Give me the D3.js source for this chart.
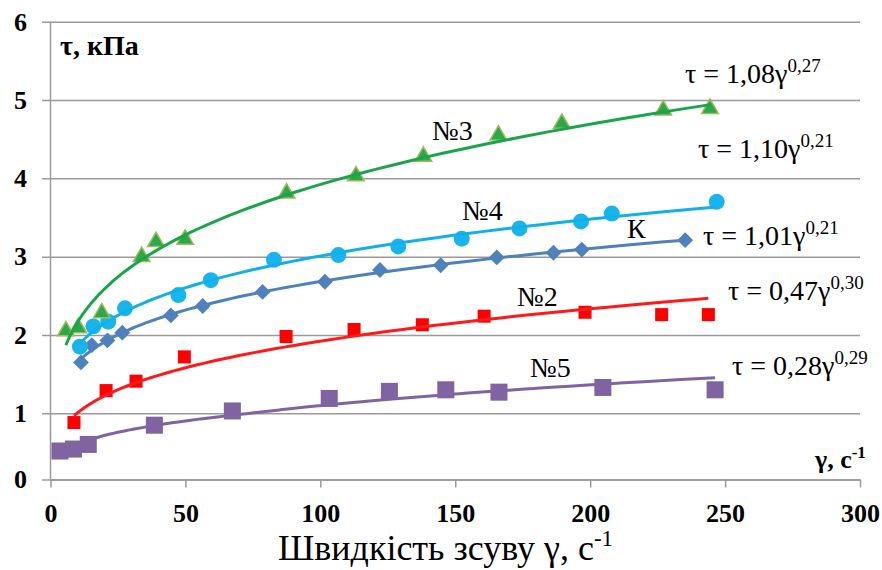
<!DOCTYPE html>
<html>
<head>
<meta charset="utf-8">
<script src="https://cdn.jsdelivr.net/npm/d3@7"></script>
<style>
  body { margin: 0; background: #fff; }
  svg text { font-family: "Liberation Serif", "Times New Roman", "DejaVu Serif", "Noto Serif", serif !important; }
</style>
</head>
<body>
<div id="chart"></div>
<script>
// ### DATA ###
// shear rate γ, 1/s  and  shear stress τ, kPa
const n3X = [5.7, 10.3, 19, 33.8, 39.1, 49.9, 87.5, 113.2, 138.2, 166, 189.5, 227.1, 244.4];
const n3Y = [2.05, 2.09, 2.28, 3.0, 3.19, 3.22, 3.81, 4.03, 4.28, 4.55, 4.70, 4.87, 4.89];

const n4X = [10.9, 15.9, 21.4, 27.6, 47.4, 59.4, 82.8, 106.7, 128.9, 152.4, 173.8, 196.6, 208, 246.9];
const n4Y = [1.85, 2.11, 2.17, 2.34, 2.51, 2.70, 2.96, 3.02, 3.13, 3.23, 3.36, 3.45, 3.55, 3.70];

const kX = [11.3, 15.3, 21.1, 26.6, 44.6, 56.4, 78.6, 101.7, 122.1, 144.6, 165.4, 186.4, 196.9, 235.2];
const kY = [1.65, 1.87, 1.93, 2.03, 2.25, 2.37, 2.55, 2.68, 2.83, 2.89, 2.99, 3.05, 3.09, 3.21];

const n2X = [8.7, 20.6, 31.7, 49.6, 87.3, 112.5, 137.8, 160.7, 198.1, 226.5, 243.8];
const n2Y = [0.86, 1.29, 1.41, 1.72, 1.98, 2.07, 2.13, 2.24, 2.29, 2.26, 2.26];

const n5X = [3.5, 8.5, 14, 38.5, 67.4, 103.3, 125.6, 146.5, 166.2, 204.7, 246.3];
const n5Y = [0.43, 0.46, 0.53, 0.82, 1.03, 1.19, 1.28, 1.30, 1.27, 1.33, 1.30];

const xTicks = [0, 50, 100, 150, 200, 250, 300];
const yTicks = [0, 1, 2, 3, 4, 5, 6];

// equations printed next to the curves: [coef, exponent]
const eqLabels = [["1,08", "0,27"], ["1,10", "0,21"], ["1,01", "0,21"], ["0,47", "0,30"], ["0,28", "0,29"]];
const seriesNames = ["№3", "№4", "К", "№2", "№5"];


// ### LAYOUT ###
const width = 882, height = 570;
const plotLeft = 50.5, plotRight = 860, plotTop = 21.7, plotBottom = 479.5;
const serif = '"Liberation Serif", "Times New Roman", "DejaVu Serif", serif';

const svg = d3.select('#chart').append('svg')
  .attr('width', width)
  .attr('height', height)
  .attr('font-family', serif);

const x = d3.scaleLinear().domain([0, 300]).range([plotLeft, plotRight]);
// the printed picture is squeezed between 0 and 1
const y = d3.scaleLinear().domain([0, 1, 6]).range([plotBottom, 413.3, plotTop]);

const grey = '#9a9a9a';

//_____ GRID + Y LABELS _____
const yAxis = svg.append('g')
  .attr('transform', `translate(${plotRight},0)`)
  .call(d3.axisLeft(y).tickValues(yTicks).tickSize(plotRight - 42).tickPadding(15).tickFormat(d3.format('d')))
  .attr('font-family', serif);
yAxis.select('.domain').remove();
yAxis.selectAll('line').attr('stroke', grey).attr('stroke-width', 1.5);
yAxis.selectAll('text')
  .attr('font-size', 26)
  .attr('font-weight', 'bold')
  .attr('fill', '#000');

//>>> vertical axis line
svg.append('line')
  .attr('x1', plotLeft).attr('x2', plotLeft)
  .attr('y1', plotTop).attr('y2', plotBottom)
  .attr('stroke', grey).attr('stroke-width', 1.5);

//_____ X AXIS _____
const xAxis = svg.append('g')
  .attr('transform', `translate(0,${plotBottom})`)
  .call(d3.axisBottom(x).tickValues(xTicks).tickSizeInner(8).tickSizeOuter(0).tickPadding(16))
  .attr('font-family', serif);
xAxis.selectAll('line, path').attr('stroke', grey).attr('stroke-width', 1.5);
xAxis.selectAll('text')
  .attr('font-size', 26)
  .attr('font-weight', 'bold')
  .attr('fill', '#000');


// ### SERIES ###
//>>> power trendline (least squares on log-log, like Excel)
function powerFit ( xs, ys ) {
  const lx = xs.map( Math.log ), ly = ys.map( Math.log );
  const mx = d3.mean( lx ), my = d3.mean( ly );
  const b = d3.sum( lx, ( v, i ) => ( v - mx ) * ( ly[ i ] - my ) ) / d3.sum( lx, v => ( v - mx ) ** 2 );
  const a = Math.exp( my - b * mx );
  return g => a * Math.pow( g, b );
}

const series = [
  { name: '№2', xs: n2X, ys: n2Y, color: '#ff1a1a', fill: '#ff0000', stroke: 'none', symbol: d3.symbolSquare, size: 170, rot: 0 },
  { name: '№5', xs: n5X, ys: n5Y, color: '#8064a2', fill: '#8064a2', stroke: 'none', symbol: d3.symbolSquare, size: 290, rot: 0 },
  { name: 'К', xs: kX, ys: kY, color: '#4f81bd', fill: '#4f81bd', stroke: 'none', symbol: d3.symbolSquare, size: 125, rot: 45 },
  { name: '№4', xs: n4X, ys: n4Y, color: '#12b0ea', fill: '#19b4ec', stroke: 'none', symbol: d3.symbolCircle, size: 200, rot: 0 },
  { name: '№3', xs: n3X, ys: n3Y, color: '#1aa54a', fill: '#2aa84a', stroke: '#9bbb59', symbol: d3.symbolTriangle, size: 120, rot: 0 }
];

const line = d3.line().x( d => x( d[ 0 ] ) ).y( d => y( d[ 1 ] ) ).curve( d3.curveMonotoneX );

series.forEach( s => {
  const g = svg.append( 'g' );

  //>>> markers
  g.selectAll( 'path.marker' )
    .data( s.xs.map( ( v, i ) => [ v, s.ys[ i ] ] ) )
    .enter()
    .append( 'path' )
    .attr( 'class', 'marker' )
    .attr( 'd', d3.symbol().type( s.symbol ).size( s.size ) )
    .attr( 'transform', d => `translate(${x( d[ 0 ] )},${y( d[ 1 ] )}) rotate(${s.rot})` )
    .attr( 'fill', s.fill )
    .attr( 'stroke', s.stroke )
    .attr( 'stroke-width', 1.5 );

  //>>> trendline across the data range
  const f = powerFit( s.xs, s.ys );
  const x0 = d3.min( s.xs ), x1 = d3.max( s.xs );
  const pts = d3.range( 0, 81 ).map( i => {
    const g0 = x0 * Math.pow( x1 / x0, i / 80 );
    return [ g0, f( g0 ) ];
  } );
  g.append( 'path' )
    .attr( 'd', line( pts ) )
    .attr( 'fill', 'none' )
    .attr( 'stroke', s.color )
    .attr( 'stroke-width', 3 );
} );


// ### TEXT ###
//>>> axis names
svg.append( 'text' )
  .attr( 'x', 60 ).attr( 'y', 55 )
  .attr( 'font-size', 28 ).attr( 'font-weight', 'bold' )
  .text( 'τ, кПа' );

const gLab = svg.append( 'text' )
  .attr( 'x', 815 ).attr( 'y', 468 )
  .attr( 'font-size', 26 ).attr( 'font-weight', 'bold' );
gLab.append( 'tspan' ).text( 'γ, с' );
gLab.append( 'tspan' ).attr( 'dy', -10 ).attr( 'font-size', 17 ).text( '-1' );

const title = svg.append( 'text' )
  .attr( 'x', 278 ).attr( 'y', 560 )
  .attr( 'font-size', 36 );
title.append( 'tspan' ).text( 'Швидкість зсуву γ, с' );
title.append( 'tspan' ).attr( 'dy', -14 ).attr( 'font-size', 23 ).text( '-1' );

//>>> series names
const namePos = [ [ 432, 140 ], [ 462, 220 ], [ 627, 238 ], [ 517, 306 ], [ 530, 377 ] ];
svg.selectAll( 'text.sname' )
  .data( seriesNames )
  .enter()
  .append( 'text' )
  .attr( 'class', 'sname' )
  .attr( 'x', ( d, i ) => namePos[ i ][ 0 ] )
  .attr( 'y', ( d, i ) => namePos[ i ][ 1 ] )
  .attr( 'font-size', 28 )
  .text( d => d );

//>>> equations
const eqPos = [ [ 685, 83 ], [ 698, 158 ], [ 703, 245 ], [ 728, 300 ], [ 732, 375 ] ];
eqLabels.forEach( ( e, i ) => {
  const t = svg.append( 'text' )
    .attr( 'x', eqPos[ i ][ 0 ] ).attr( 'y', eqPos[ i ][ 1 ] )
    .attr( 'font-size', 28 );
  t.append( 'tspan' ).text( `τ = ${e[ 0 ]}γ` );
  t.append( 'tspan' ).attr( 'dy', -11 ).attr( 'font-size', 19 ).text( e[ 1 ] );
} );
</script>
</body>
</html>
